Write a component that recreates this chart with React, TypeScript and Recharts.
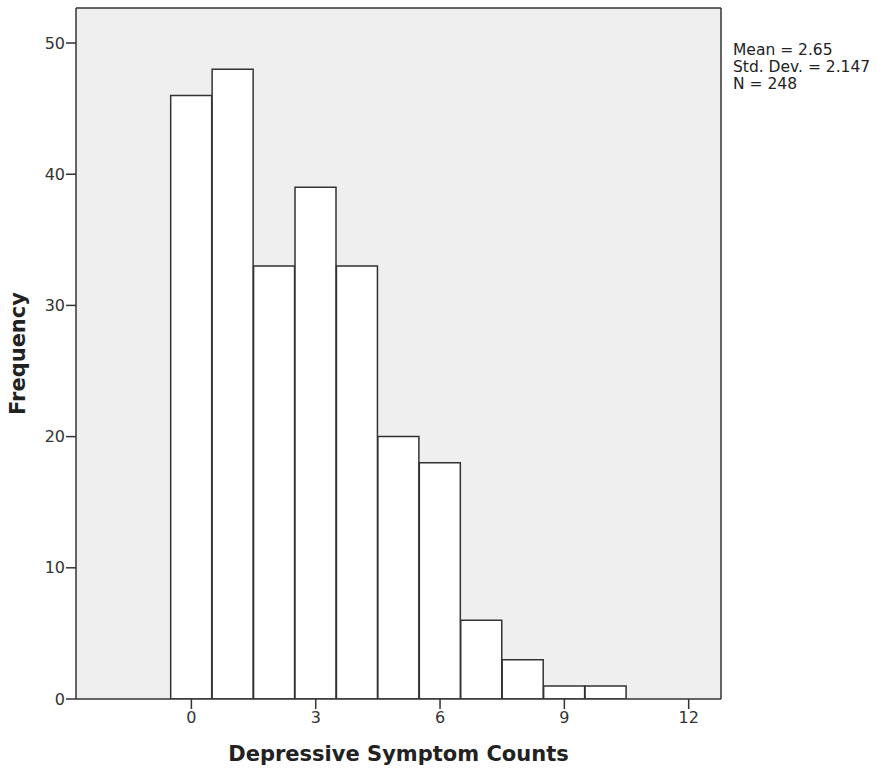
import React from 'react';
import { BarChart, Bar, XAxis, YAxis, CartesianGrid, Label, ReferenceLine } from 'recharts';

const counts = [0, 1, 2, 3, 4, 5, 6, 7, 8, 9, 10];
const frequencies = [46, 48, 33, 39, 33, 20, 18, 6, 3, 1, 1];
const xTicks = [0, 3, 6, 9, 12];
const yTicks = [0, 10, 20, 30, 40, 50];
const xDomain = [-2.785, 12.78];
const yDomain = [0, 52.67];
const statLines = ['Mean = 2.65', 'Std. Dev. = 2.147', 'N = 248'];

const data = counts.map((c, i) => ({ count: c, freq: frequencies[i] }));

const FONT = '"DejaVu Sans", Verdana, sans-serif';
const LINE = '#333';

const App: React.FC = () => {
  return (
    <div style={{ position: 'absolute', left: 0, top: 0, width: 877, height: 772, background: '#fff' }}>
      <BarChart
        width={877}
        height={772}
        data={data}
        margin={{ top: 8, right: 156, bottom: 0, left: 0 }}
        barCategoryGap={0}
        barGap={0}
      >
        <CartesianGrid horizontal={false} vertical={false} fill="#efefef" />
        <XAxis
          dataKey="count"
          type="number"
          domain={xDomain}
          ticks={xTicks}
          allowDataOverflow
          height={73}
          axisLine={{ stroke: LINE, strokeWidth: 1.5 }}
          tickLine={{ stroke: LINE, strokeWidth: 1.5 }}
          tickSize={10}
          tickMargin={3}
          tick={{ fill: '#333', fontSize: 16, fontFamily: FONT }}
        >
          <Label
            value="Depressive Symptom Counts"
            position="insideBottom"
            offset={11}
            style={{ fill: '#222', fontSize: 21, fontWeight: 'bold', fontFamily: FONT }}
          />
        </XAxis>
        <YAxis
          type="number"
          domain={yDomain}
          ticks={yTicks}
          allowDataOverflow
          width={76}
          axisLine={{ stroke: LINE, strokeWidth: 1.5 }}
          tickLine={{ stroke: LINE, strokeWidth: 1.5 }}
          tickSize={10}
          tickMargin={1}
          tick={{ fill: '#333', fontSize: 16, fontFamily: FONT }}
        >
          <Label
            value="Frequency"
            angle={-90}
            position="insideLeft"
            offset={18}
            style={{ fill: '#222', fontSize: 21, fontWeight: 'bold', fontFamily: FONT, textAnchor: 'middle' }}
          />
        </YAxis>
        <ReferenceLine y={yDomain[1]} stroke={LINE} strokeWidth={1.5} />
        <ReferenceLine x={xDomain[1]} stroke={LINE} strokeWidth={1.5} />
        <Bar dataKey="freq" fill="#fff" stroke={LINE} strokeWidth={1.5} isAnimationActive={false} />
      </BarChart>
      <div
        style={{
          position: 'absolute',
          left: 733,
          top: 42,
          fontFamily: FONT,
          fontSize: 15.5,
          lineHeight: '17px',
          color: '#222',
          whiteSpace: 'nowrap',
        }}
      >
        {statLines.map((s) => (
          <div key={s}>{s}</div>
        ))}
      </div>
    </div>
  );
};

export default App;
